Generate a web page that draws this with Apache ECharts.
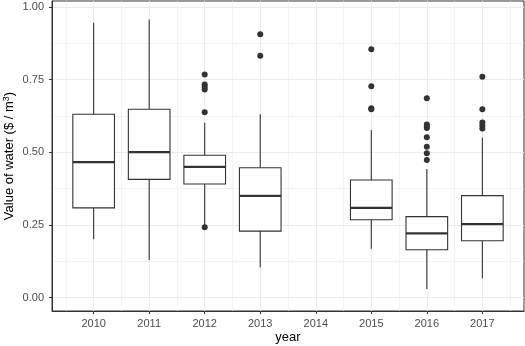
<!DOCTYPE html>
<html>
<head>
<meta charset="UTF-8">
<script src="https://cdn.jsdelivr.net/npm/echarts@6/dist/echarts.min.js"></script>
<style>
    * { margin: 0; padding: 0; }
    body { background: #fff; }
    #main { width: 525px; height: 346px; }
</style>
</head>
<body>
<div id="main"></div>
<script>
    // box statistics per year (2014 has no data)
    var years = [2010, 2011, 2012, 2013, 2015, 2016, 2017];
    var lowerWhisker = [0.201, 0.130, 0.248, 0.105, 0.168, 0.030, 0.067];
    var q1 = [0.309, 0.407, 0.391, 0.229, 0.268, 0.165, 0.196];
    var median = [0.466, 0.501, 0.450, 0.350, 0.309, 0.221, 0.253];
    var q3 = [0.631, 0.648, 0.490, 0.447, 0.405, 0.279, 0.351];
    var upperWhisker = [0.946, 0.957, 0.602, 0.631, 0.577, 0.443, 0.550];

    // outliers [year, value]
    var outliers = [
        [2012, 0.768], [2012, 0.733], [2012, 0.725], [2012, 0.716], [2012, 0.638], [2012, 0.242],
        [2013, 0.906], [2013, 0.832],
        [2015, 0.855], [2015, 0.727], [2015, 0.652], [2015, 0.648],
        [2016, 0.686], [2016, 0.596], [2016, 0.589], [2016, 0.584], [2016, 0.552],
        [2016, 0.519], [2016, 0.497], [2016, 0.474],
        [2017, 0.760], [2017, 0.648], [2017, 0.603], [2017, 0.592], [2017, 0.582]
    ];

    var xTicks = [2010, 2011, 2012, 2013, 2014, 2015, 2016, 2017];
    var xMinor = [2009.5, 2010.5, 2011.5, 2012.5, 2013.5, 2014.5, 2015.5, 2016.5, 2017.5];
    var yTicks = [0, 0.25, 0.5, 0.75, 1];
    var yMinor = [0.125, 0.375, 0.625, 0.875];

    var boxData = years.map(function (y, i) {
        return [y, lowerWhisker[i], q1[i], median[i], q3[i], upperWhisker[i]];
    });

    var chart = echarts.init(document.getElementById('main'));
    var font = 'Liberation Sans, Arial, sans-serif';
    var ink = '#333333';

    // ggplot-like box: no whisker caps, thicker median
    function renderBox(params, api) {
        var x = api.value(0);
        var halfW = api.size([0.75, 0])[0] / 2;
        var pLow = api.coord([x, api.value(1)]);
        var pQ1 = api.coord([x, api.value(2)]);
        var pMed = api.coord([x, api.value(3)]);
        var pQ3 = api.coord([x, api.value(4)]);
        var pUp = api.coord([x, api.value(5)]);
        var lineStyle = { stroke: ink, lineWidth: 1.1, fill: null };
        return {
            type: 'group',
            children: [
                { type: 'line', shape: { x1: pLow[0], y1: pLow[1], x2: pQ1[0], y2: pQ1[1] }, style: lineStyle },
                { type: 'line', shape: { x1: pQ3[0], y1: pQ3[1], x2: pUp[0], y2: pUp[1] }, style: lineStyle },
                {
                    type: 'rect',
                    shape: { x: pQ3[0] - halfW, y: pQ3[1], width: halfW * 2, height: pQ1[1] - pQ3[1] },
                    style: { fill: '#fff', stroke: ink, lineWidth: 1.1 }
                },
                { type: 'line', shape: { x1: pMed[0] - halfW, y1: pMed[1], x2: pMed[0] + halfW, y2: pMed[1] }, style: { stroke: ink, lineWidth: 2.3 } }
            ]
        };
    }

    var option = {
        animation: false,
        grid: {
            left: 52, right: 1, top: 1, bottom: 35,
            outerBoundsMode: 'none',
            containLabel: false,
            show: true,
            backgroundColor: '#fff',
            borderColor: ink,
            borderWidth: 1
        },
        xAxis: [
            {
                type: 'value',
                min: 2009.25,
                max: 2017.75,
                name: 'year',
                nameLocation: 'middle',
                nameGap: 20,
                nameMoveOverlap: false,
                nameTextStyle: { fontSize: 13, color: '#000', fontFamily: font },
                axisLine: { show: true, onZero: false, lineStyle: { color: ink, width: 1 } },
                axisTick: { show: true, length: 3, customValues: xTicks, lineStyle: { color: ink } },
                axisLabel: {
                    customValues: xTicks, margin: 7, fontSize: 11,
                    color: '#4d4d4d', fontFamily: font,
                    formatter: function (v) { return String(v); }
                },
                splitLine: { show: true, lineStyle: { color: '#ebebeb', width: 1.1 } }
            },
            {
                type: 'value',
                min: 2009.25,
                max: 2017.75,
                position: 'bottom',
                axisLine: { show: false, onZero: false },
                axisTick: { show: false, customValues: xMinor },
                axisLabel: { show: false, customValues: xMinor },
                splitLine: { show: true, lineStyle: { color: '#ebebeb', width: 0.6 } }
            }
        ],
        yAxis: [
            {
                type: 'value',
                min: -0.0458,
                max: 1.0206,
                name: 'Value of water ($ / m{sup|3})',
                nameLocation: 'middle',
                nameGap: 35,
                nameMoveOverlap: false,
                nameTextStyle: {
                    fontSize: 13, color: '#000', fontFamily: font,
                    rich: { sup: { fontSize: 9, color: '#000', fontFamily: font, verticalAlign: 'top', padding: [0, 0, 6, 0] } }
                },
                axisLine: { show: true, onZero: false, lineStyle: { color: ink, width: 1 } },
                axisTick: { show: true, length: 3, customValues: yTicks, lineStyle: { color: ink } },
                axisLabel: {
                    customValues: yTicks, margin: 8, fontSize: 11,
                    color: '#4d4d4d', fontFamily: font,
                    formatter: function (v) { return v.toFixed(2); }
                },
                splitLine: { show: true, lineStyle: { color: '#ebebeb', width: 1.1 } }
            },
            {
                type: 'value',
                min: -0.0458,
                max: 1.0206,
                axisLine: { show: false, onZero: false },
                axisTick: { show: false, customValues: yMinor },
                axisLabel: { show: false, customValues: yMinor },
                splitLine: { show: true, lineStyle: { color: '#ebebeb', width: 0.6 } }
            }
        ],
        series: [
            {
                type: 'custom',
                xAxisIndex: 0,
                yAxisIndex: 0,
                renderItem: renderBox,
                encode: { x: 0, y: [1, 2, 3, 4, 5] },
                data: boxData,
                z: 3
            },
            {
                type: 'scatter',
                xAxisIndex: 0,
                yAxisIndex: 0,
                symbol: 'circle',
                symbolSize: 6,
                itemStyle: { color: ink, opacity: 1 },
                data: outliers,
                z: 5
            }
        ]
    };

    chart.setOption(option);
</script>
</body>
</html>
